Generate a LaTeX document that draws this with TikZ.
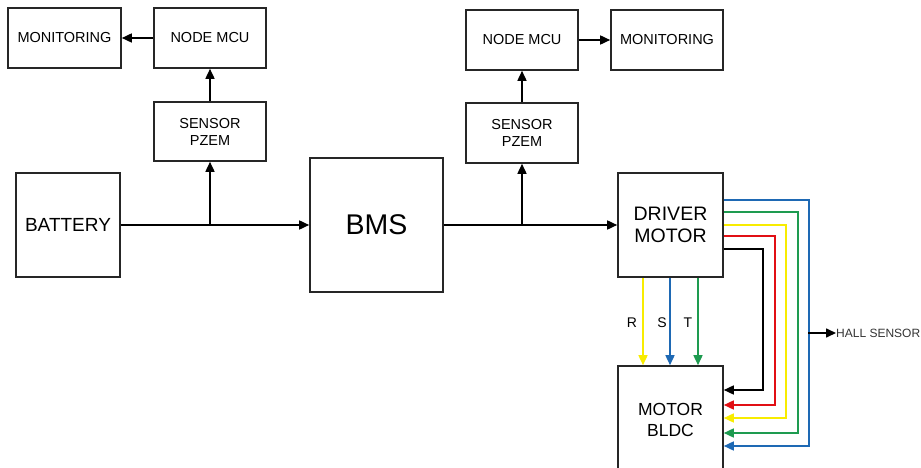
\documentclass[tikz,border=0pt]{standalone}
\usepackage{fontspec}
\setmainfont{Liberation Sans}
\usetikzlibrary{arrows.meta}
\definecolor{wyel}{RGB}{248,236,0}
\definecolor{wblu}{RGB}{30,105,180}
\definecolor{wgrn}{RGB}{30,155,80}
\definecolor{wred}{RGB}{225,15,20}
\tikzset{
  box/.style={draw=black!85, line width=1.6pt, inner sep=0pt, align=center, font=\fontsize{14.5}{17}\selectfont},
  conn/.style={line width=1.6pt, -{Triangle[length=10pt,width=9pt]}},
  wire/.style={line width=1.6pt, -{Triangle[length=10pt,width=9pt]}},
  lbl/.style={inner sep=0pt, font=\fontsize{14}{16}\selectfont}
}
\begin{document}
\begin{tikzpicture}[x=1pt,y=-1pt]
\useasboundingbox (0,0) rectangle (921,468);
% left chain
\node[box, minimum width=113pt, minimum height=60pt] (monL) at (64.5,38) {MONITORING};
\node[box, minimum width=112pt, minimum height=60pt] (mcuL) at (210,38) {NODE MCU};
\node[box, minimum width=112pt, minimum height=59pt] (pzL) at (210,131.5) {SENSOR\\PZEM};
\node[box, minimum width=104pt, minimum height=104pt, font=\fontsize{19}{22}\selectfont] (bat) at (68,225) {BATTERY};
\node[box, minimum width=133pt, minimum height=134pt, font=\fontsize{28.5}{32}\selectfont] (bms) at (376.5,225) {BMS};
% right chain
\node[box, minimum width=112pt, minimum height=60pt] (mcuR) at (522,40) {NODE MCU};
\node[box, minimum width=112pt, minimum height=60pt] (monR) at (667,40) {MONITORING};
\node[box, minimum width=112pt, minimum height=60pt] (pzR) at (522,133) {SENSOR\\PZEM};
\node[box, minimum width=105pt, minimum height=104pt, font=\fontsize{19.5}{22}\selectfont] (drv) at (670.5,225) {DRIVER\\MOTOR};
\node[box, minimum width=105pt, minimum height=108pt, font=\fontsize{17.5}{21}\selectfont] (mb) at (670.5,420) {MOTOR\\BLDC};
% main power line
\draw[conn] (bat.east) -- (bms.west);
\coordinate (jL) at (pzL.south |- bat.east);
\draw[conn] (jL) -- (pzL.south);
\draw[conn] (pzL.north) -- (mcuL.south);
\draw[conn] (mcuL.west) -- (monL.east);
\draw[conn] (bms.east) -- (drv.west);
\coordinate (jR) at (pzR.south |- bms.east);
\draw[conn] (jR) -- (pzR.south);
\draw[conn] (pzR.north) -- (mcuR.south);
\draw[conn] (mcuR.east) -- (monR.west);
% phase wires
\draw[wire, wyel] ([xshift=-27.5pt]drv.south) -- ([xshift=-27.5pt]mb.north);
\draw[wire, wblu] ([xshift=-0.5pt]drv.south) -- ([xshift=-0.5pt]mb.north);
\draw[wire, wgrn] ([xshift=27.5pt]drv.south) -- ([xshift=27.5pt]mb.north);
\node[lbl] (lR) at (632,323) {R};
\node[lbl] (lS) at (662,323) {S};
\node[lbl] (lT) at (688,323) {T};
% hall wires
\draw[wire, black] ([yshift=-24pt]drv.east) -- ++(39,0) |- ([yshift=30pt]mb.east);
\draw[wire, wred] ([yshift=-11pt]drv.east) -- ++(51,0) |- ([yshift=15pt]mb.east);
\draw[wire, wyel] (drv.east) -- ++(62,0) |- ([yshift=2pt]mb.east);
\draw[wire, wgrn] ([yshift=13pt]drv.east) -- ++(74,0) |- ([yshift=-13pt]mb.east);
\draw[wire, wblu] ([yshift=25pt]drv.east) -- ++(85,0) |- ([yshift=-26pt]mb.east);
\coordinate (hs) at (808,333);
\node[inner sep=0pt, anchor=west, text=black!80, font=\fontsize{12}{14}\selectfont] (hall) at (836,333) {HALL SENSOR};
\draw[conn] (hs) -- (hall.west);
\end{tikzpicture}
\end{document}
